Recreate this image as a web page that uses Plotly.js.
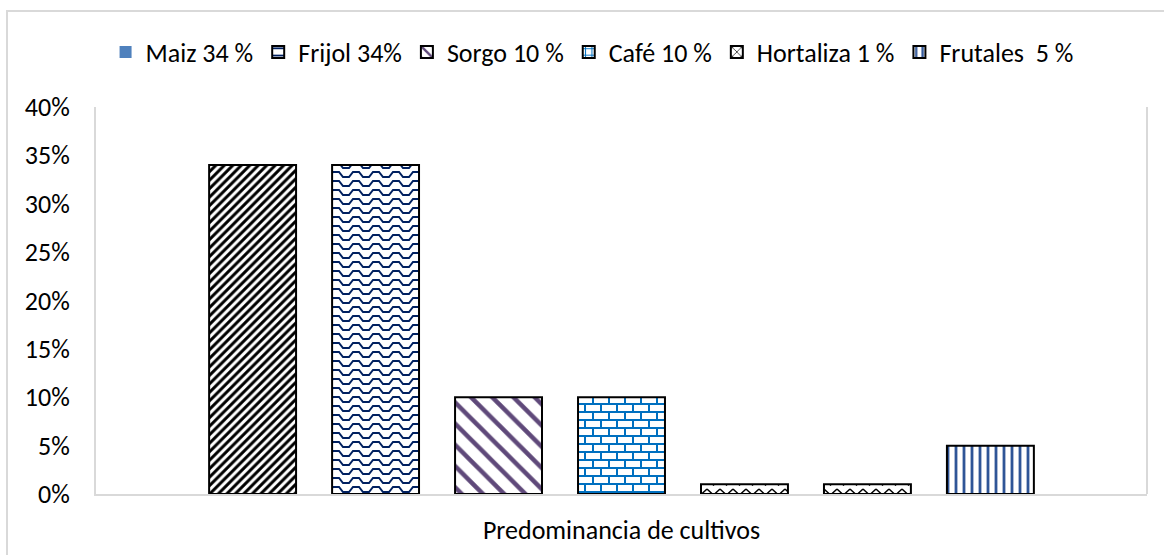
<!DOCTYPE html>
<html>
<head>
<meta charset="utf-8">
<script src="https://cdn.plot.ly/plotly-3.0.1.min.js"></script>
<style>
  html, body { margin: 0; padding: 0; background: #fff; }
  #chart { position: absolute; left: 0; top: 0; width: 1164px; height: 555px; }
  #frame { position: absolute; left: 6px; top: 10px; width: 1200px; height: 600px;
           border-left: 2px solid #D9D9D9; border-top: 2px solid #D9D9D9; pointer-events: none; }
</style>
</head>
<body>
<div id="chart"></div>
<div id="frame"></div>
<script>
// ---- data ----
const category = 'Predominancia de cultivos';
const seriesNames = ['Maiz 34 %', 'Frijol 34%', 'Sorgo 10 %', 'Café 10 %', 'Hortaliza 1 %', 'Hortaliza 1 %', 'Frutales\u00a0 5 %'];
const seriesValues = [0.34, 0.34, 0.10, 0.10, 0.01, 0.01, 0.05];
const yTickValues = [0, 0.05, 0.10, 0.15, 0.20, 0.25, 0.30, 0.35, 0.40];
const legendSwatchColor = '#4F81BD'; // Maiz swatch in legend

// ---- styles ----
const patterns = [
  { shape: '/', fgcolor: '#000000', bgcolor: '#ffffff', size: 6, solidity: 0.5 },
  { shape: '-', fgcolor: '#002060', bgcolor: '#ffffff', size: 9, solidity: 0.25 },
  { shape: '\\', fgcolor: '#5F497A', bgcolor: '#ffffff', size: 15, solidity: 0.3 },
  { shape: '+', fgcolor: '#0070C0', bgcolor: '#ffffff', size: 8, solidity: 0.3 },
  { shape: 'x', fgcolor: '#000000', bgcolor: '#ffffff', size: 8, solidity: 0.2 },
  { shape: 'x', fgcolor: '#000000', bgcolor: '#ffffff', size: 8, solidity: 0.2 },
  { shape: '|', fgcolor: '#2F5597', bgcolor: '#ffffff', size: 8, solidity: 0.35 }
];
// finer textures (wavy, brick, zigzag) applied to the pattern tiles after rendering
const customTiles = [
  null,
  { w: 20, h: 9, d: 'M0,2 L3,2 L7,7 L13,7 L17,2 L20,2', stroke: '#002060', sw: 2 },
  null,
  { w: 16, h: 16, d: 'M0,1 L16,1 M0,9 L16,9 M1,1 L1,9 M9,9 L9,16', stroke: '#0070C0', sw: 2 },
  { w: 13, h: 10, d: 'M0,2 L6.5,8 L13,2', stroke: '#000000', sw: 1.5 },
  { w: 13, h: 10, d: 'M0,2 L6.5,8 L13,2', stroke: '#000000', sw: 1.5 },
  null
];
const showInLegend = [false, true, true, true, true, false, true];

const FONT = 'Carlito, Lato, "Liberation Sans", sans-serif';
const FS = 26;

const traces = [];
// legend-only swatch for Maiz (solid blue, as in the reference legend)
traces.push({
  type: 'bar', name: seriesNames[0], x: [category], y: [null],
  xaxis: 'x2', yaxis: 'y',
  marker: { color: legendSwatchColor, line: { width: 0 } },
  showlegend: true, hoverinfo: 'skip'
});
seriesNames.forEach((n, i) => {
  traces.push({
    type: 'bar', name: n, x: [category], y: [seriesValues[i]],
    marker: { color: '#ffffff', pattern: patterns[i], line: { color: '#000000', width: 2 } },
    showlegend: showInLegend[i]
  });
});

const layout = {
  width: 1164, height: 555,
  margin: { l: 96, r: 17, t: 107, b: 61 },
  paper_bgcolor: '#ffffff', plot_bgcolor: '#ffffff',
  font: { family: FONT, size: FS, color: '#000000' },
  barmode: 'group', bargap: 0.181, bargroupgap: 0.293,
  showlegend: true,
  legend: {
    orientation: 'h', x: 0.472, xanchor: 'center', y: 1.142, yanchor: 'middle',
    font: { family: FONT, size: FS, color: '#000000' },
    traceorder: 'normal', itemwidth: 30
  },
  xaxis: {
    type: 'category', showticklabels: false, ticks: '',
    showline: true, linecolor: '#D9D9D9', linewidth: 2, showgrid: false, zeroline: false,
    title: { text: category, font: { family: FONT, size: FS, color: '#000000' }, standoff: 26 },
    automargin: false
  },
  xaxis2: { type: 'category', overlaying: 'x', visible: false },
  yaxis: {
    range: [0, 0.4], tickvals: yTickValues, tickformat: '.0%',
    showline: true, linecolor: '#D9D9D9', linewidth: 2, showgrid: false, zeroline: false,
    ticks: '', ticklabelstandoff: 19, automargin: false,
    tickfont: { family: FONT, size: FS, color: '#000000' }
  },
  shapes: [
    { type: 'line', xref: 'paper', yref: 'paper', x0: 1, x1: 1, y0: 0, y1: 1,
      line: { color: '#D9D9D9', width: 2 } }
  ]
};

const SVGNS = 'http://www.w3.org/2000/svg';
function applyTiles() {
  const gd = document.getElementById('chart');
  const groups = gd.querySelectorAll('.xy .barlayer .trace.bars');
  groups.forEach((g, i) => {
    const tile = customTiles[i];
    if (!tile) return;
    g.querySelectorAll('path').forEach(p => {
      const f = p.style.fill || p.getAttribute('fill') || '';
      const m = f.match(/#([^"')]+)/);
      if (!m) return;
      const pat = gd.querySelector('pattern[id="' + m[1] + '"]') || document.getElementById(m[1]);
      if (!pat) return;
      while (pat.firstChild) pat.removeChild(pat.firstChild);
      pat.setAttribute('width', tile.w);
      pat.setAttribute('height', tile.h);
      pat.setAttribute('patternUnits', 'userSpaceOnUse');
      pat.removeAttribute('patternTransform');
      const r = document.createElementNS(SVGNS, 'rect');
      r.setAttribute('width', tile.w); r.setAttribute('height', tile.h);
      r.setAttribute('fill', '#ffffff');
      pat.appendChild(r);
      const pa = document.createElementNS(SVGNS, 'path');
      pa.setAttribute('d', tile.d);
      pa.setAttribute('fill', 'none');
      pa.setAttribute('stroke', tile.stroke);
      pa.setAttribute('stroke-width', tile.sw);
      pat.appendChild(pa);
    });
  });
}

Plotly.newPlot('chart', traces, layout, { staticPlot: true, displayModeBar: false }).then(applyTiles);
</script>
</body>
</html>
